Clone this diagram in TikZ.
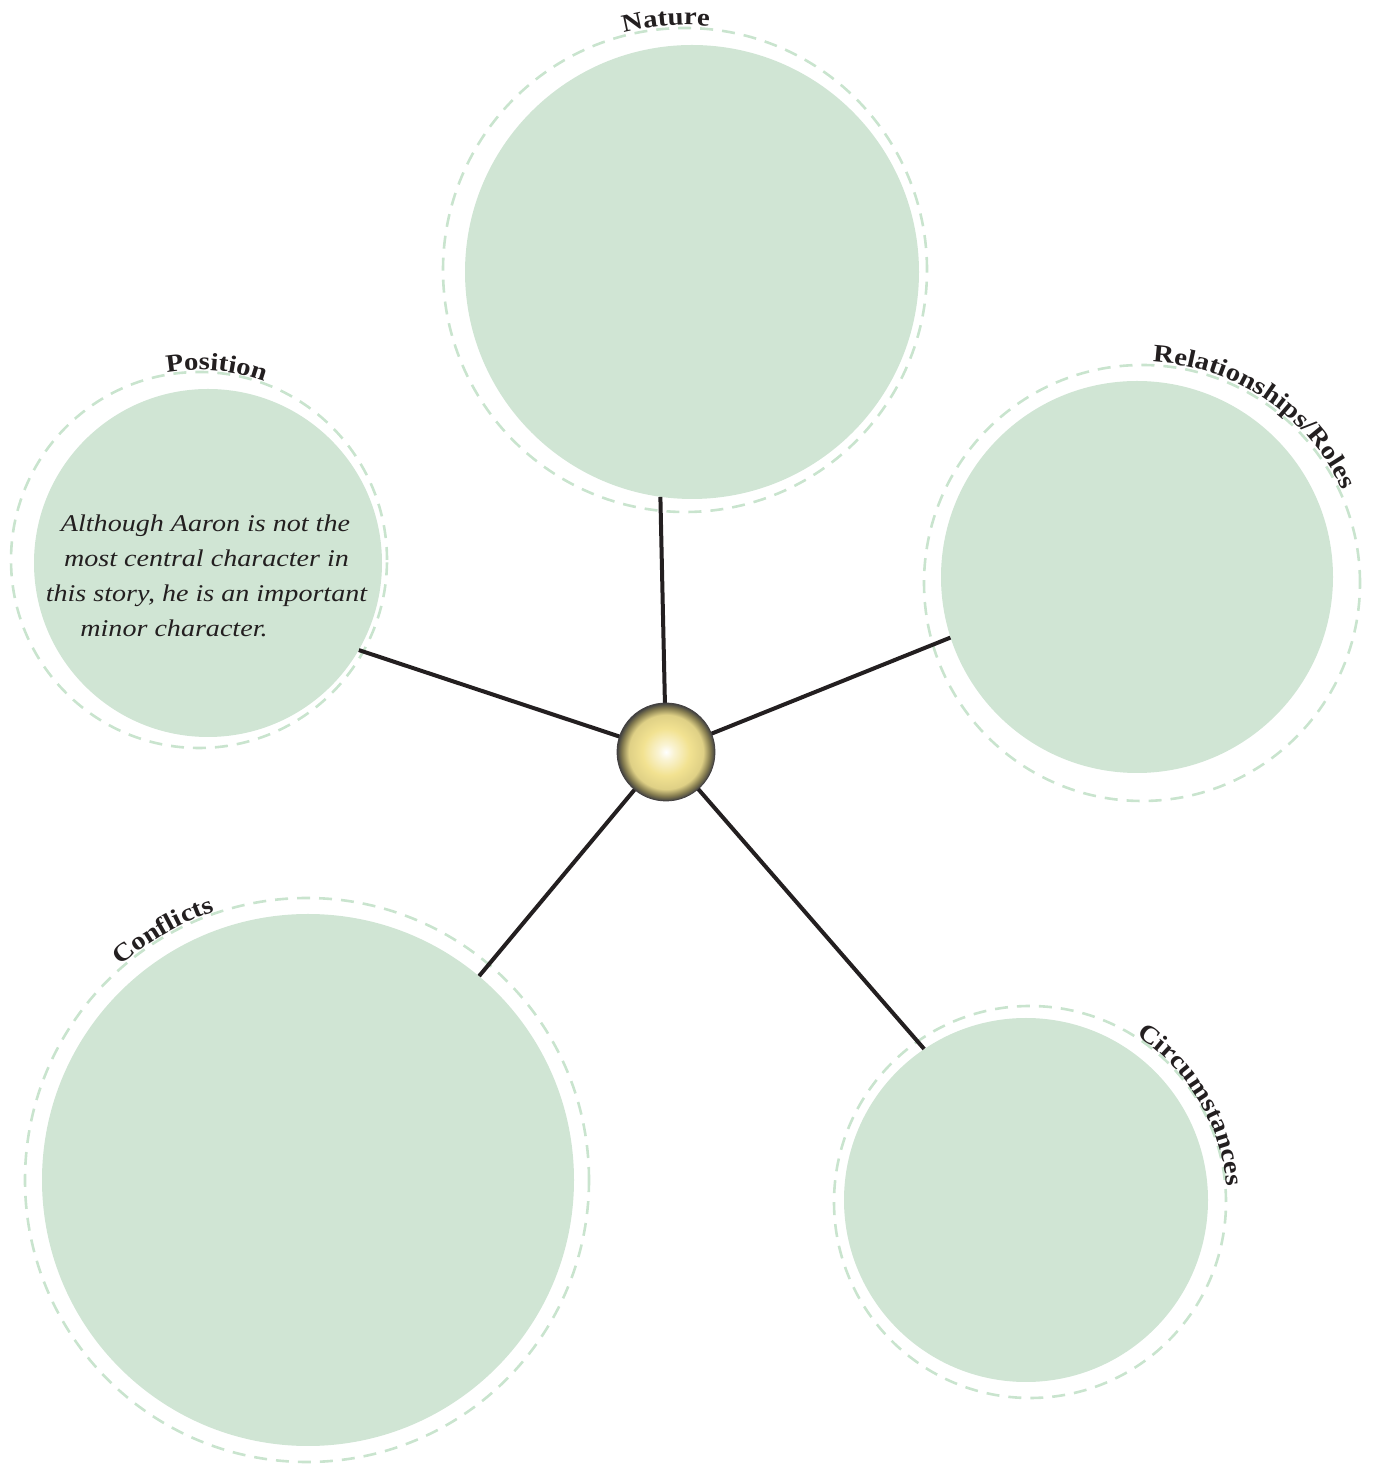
\documentclass[tikz,border=0pt]{standalone}
\usepackage{fontspec}
\newfontfamily\labfont[FakeStretch=1.15]{Liberation Serif}
\newfontfamily\bodyfont[FakeStretch=1.17]{Liberation Serif}
\usetikzlibrary{decorations.text}
\definecolor{discgreen}{HTML}{D0E5D4}
\definecolor{ringgreen}{HTML}{C9E4CE}
\definecolor{ink}{HTML}{231F20}
\definecolor{ballY}{HTML}{F2E291}
\pgfdeclareradialshading{hubshade}{\pgfpoint{0bp}{0bp}}{color(0bp)=(white); color(4bp)=(ballY!40!white); color(12bp)=(ballY); color(19bp)=(ballY!92!black); color(22.5bp)=(ballY!55!black); color(25bp)=(black!75); color(50bp)=(black!75)}
\begin{document}
\begin{tikzpicture}[x=1pt,y=1pt,
  disc/.style={circle, fill=discgreen, draw=none, inner sep=0pt, minimum size=#1},
  ring/.style={draw=ringgreen, line width=2.6pt, dash pattern=on 13pt off 9pt},
  spoke/.style={draw=ink, line width=4pt},
  lab/.style={decorate, decoration={text along path, text align=center, text color=ink,
     text={|\labfont\bfseries\fontsize{25}{25}\selectfont|#1}}},
  body/.style={font=\bodyfont\itshape\fontsize{24}{35}\selectfont, text=ink, inner sep=0pt, anchor=base}]
\useasboundingbox (0,0) rectangle (1373,1465);

% dashed rings
\draw[ring] (685,1195) circle[radius=242];
\draw[ring] (199,905) circle[radius=188];
\draw[ring] (1142,882) circle[radius=218];
\draw[ring] (307,285) circle[radius=282];
\draw[ring] (1030,263) circle[radius=196];

% filled discs
\node[disc=454] (nat) at (692,1193) {};
\node[disc=348] (pos) at (208,902) {};
\node[disc=392] (rel) at (1137,888) {};
\node[disc=532] (con) at (308,285) {};
\node[disc=364] (cir) at (1026,265) {};

% spokes
\coordinate (hub) at (666,713);
\draw[spoke] (hub) -- (nat.262.2);
\draw[spoke] (hub) -- (pos.-30.1);
\draw[spoke] (hub) -- (rel.198.2);
\draw[spoke] (hub) -- (con.50.8);
\draw[spoke] (hub) -- (cir.124.4);

% hub ball
\node[circle, minimum size=98pt, inner sep=0pt, shade, shading=hubshade, draw=ink!85, line width=0.8pt] (ball) at (hub) {};

% curved labels
\path[lab=Nature] (685,1195) ++(119.4:245) arc[start angle=119.4, end angle=69.4, radius=245];
\path[lab=Position] (199,905) ++(114.8:190) arc[start angle=114.8, end angle=54.8, radius=190];
\path[lab=Relationships/Roles] (1142,882) ++(101:221) arc[start angle=101, end angle=11, radius=221];
\path[lab=Conflicts] (307,285) ++(145:284) arc[start angle=145, end angle=95, radius=284];
\path[lab=Circumstances] (1030,263) ++(76:197) arc[start angle=76, end angle=-14, radius=197];

% body text
\node[body] (t1) at (205.5,933) {Although Aaron is not the};
\node[body] (t2) at (206.5,898) {most central character in};
\node[body] (t3) at (206.5,863) {this story, he is an important};
\node[body] (t4) at (174,828) {minor character.};
\end{tikzpicture}
\end{document}
